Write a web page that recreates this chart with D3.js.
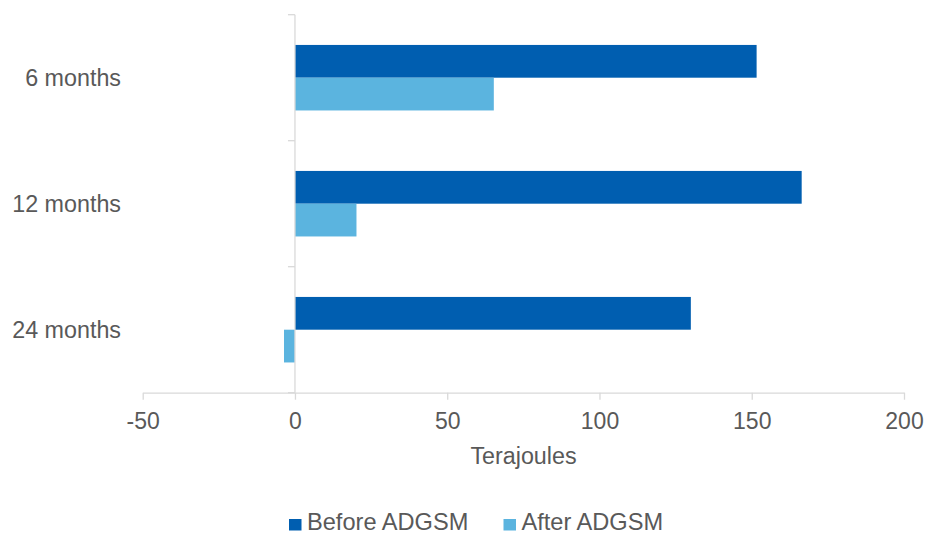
<!DOCTYPE html>
<html>
<head>
<meta charset="utf-8">
<script src="https://cdn.jsdelivr.net/npm/d3@7/dist/d3.min.js"></script>
<style>
  body { margin: 0; background: #fff; }
  text { font-family: "Liberation Sans", Arial, sans-serif; fill: #595959; }
</style>
</head>
<body>
<svg id="chart" width="927" height="533"></svg>
<script>
// data
var categories = ['6 months', '12 months', '24 months'];
var seriesNames = ['Before ADGSM', 'After ADGSM'];
var beforeValues = [151.6, 166.4, 130.0];
var afterValues = [65.3, 20.2, -3.6];
var xTicks = [-50, 0, 50, 100, 150, 200];
var seriesColors = ['#005EB0', '#5BB4DF'];

var svg = d3.select('#chart');
var axisColor = '#d9d9d9';

var x = d3.scaleLinear().domain([-50, 200]).range([142.7, 904]);
var y = d3.scaleBand().domain(categories).range([14.7, 392.7])
    .paddingInner(0.48).paddingOuter(0.24);
var ySub = d3.scaleBand().domain(seriesNames).range([0, y.bandwidth()]);

var rows = categories.map(function(c, i) {
    return { cat: c, vals: [beforeValues[i], afterValues[i]] };
});

// bars
var groups = svg.append('g').selectAll('g').data(rows).enter().append('g')
    .attr('transform', function(d) { return 'translate(0,' + y(d.cat) + ')'; });
groups.selectAll('rect').data(function(d) {
        return d.vals.map(function(v, k) { return { name: seriesNames[k], v: v, k: k }; });
    })
    .enter().append('rect')
    .attr('x', function(d) { return x(Math.min(0, d.v)); })
    .attr('width', function(d) { return Math.abs(x(d.v) - x(0)); })
    .attr('y', function(d) { return ySub(d.name); })
    .attr('height', ySub.bandwidth())
    .attr('fill', function(d) { return seriesColors[d.k]; });

// vertical (category) axis at zero
var x0 = x(0);
var yEdges = [14.7].concat(categories.map(function(c) { return y(c) - y.step() * 0.24 + y.step(); }));
svg.append('line').attr('x1', x0).attr('x2', x0).attr('y1', 14.7).attr('y2', 392.7)
    .attr('stroke', axisColor).attr('stroke-width', 1.3);
svg.append('g').selectAll('line').data(yEdges).enter().append('line')
    .attr('x1', x0 - 7).attr('x2', x0).attr('y1', function(d) { return d; }).attr('y2', function(d) { return d; })
    .attr('stroke', axisColor).attr('stroke-width', 1.3);

// horizontal value axis (plain hyphen for negatives, like the original)
var xAxis = d3.axisBottom(x).tickValues(xTicks).tickSize(7).tickPadding(13).tickSizeOuter(0)
    .tickFormat(function(d) { return String(d); });
var gx = svg.append('g').attr('transform', 'translate(0,392.7)').call(xAxis);
gx.select('.domain').attr('stroke', axisColor).attr('stroke-width', 1.3);
gx.selectAll('.tick line').attr('stroke', axisColor).attr('stroke-width', 1.3);
gx.selectAll('.tick text').attr('font-size', '23px').attr('fill', '#595959')
    .attr('font-family', '"Liberation Sans", Arial, sans-serif');

// category labels
svg.append('g').selectAll('text').data(categories).enter().append('text')
    .attr('x', 121).attr('y', function(d) { return y(d) + y.bandwidth() / 2 + 8.3; })
    .attr('text-anchor', 'end').attr('font-size', '23.3px')
    .text(function(d) { return d; });

// axis title
svg.append('text').attr('x', 523.5).attr('y', 464.3).attr('text-anchor', 'middle')
    .attr('font-size', '23.3px').text('Terajoules');

// legend
var legendX = [289, 503.5];
var leg = svg.append('g').selectAll('g').data(seriesNames).enter().append('g')
    .attr('transform', function(d, i) { return 'translate(' + legendX[i] + ',0)'; });
leg.append('rect').attr('x', 0).attr('y', 519).attr('width', 12.5).attr('height', 11.5)
    .attr('fill', function(d, i) { return seriesColors[i]; });
leg.append('text').attr('x', 18).attr('y', 529.5).attr('font-size', '23.6px')
    .text(function(d) { return d; });
</script>
</body>
</html>
